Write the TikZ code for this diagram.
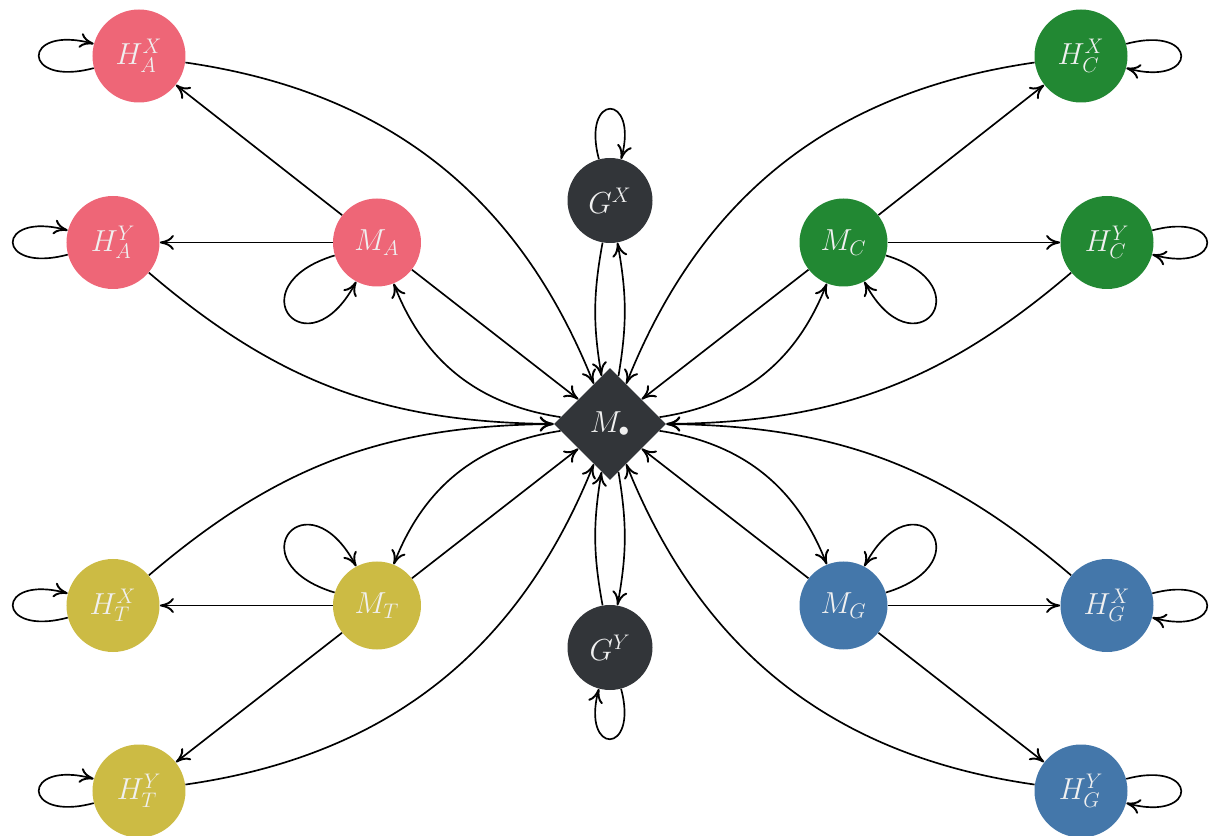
\documentclass[tikz,border=0pt]{standalone}
\usetikzlibrary{shapes.geometric,arrows.meta}
\definecolor{tolred}{HTML}{EE6677}
\definecolor{tolgreen}{HTML}{228833}
\definecolor{tolyellow}{HTML}{CCBB44}
\definecolor{tolblue}{HTML}{4477AA}
\definecolor{tolgrey}{HTML}{323539}

\begin{document}
\begin{tikzpicture}[
  >={Computer Modern Rightarrow[length=2.8mm,width=3mm,line width=1.1pt]},
  hnode/.style={circle, minimum size=1.86cm, inner sep=0pt, text=white!94!black, font=\LARGE},
  mnode/.style={circle, minimum size=1.76cm, inner sep=0pt, text=white!94!black, font=\LARGE},
  gnode/.style={circle, fill=tolgrey, minimum size=1.7cm, inner sep=0pt, text=white!94!black, font=\LARGE},
  hubnode/.style={diamond, fill=tolgrey, minimum width=2.24cm, minimum height=2.24cm, inner sep=0pt, text=white!94!black, font=\LARGE},
  arrow/.style={->, line width=0.95pt},
  bigloop/.style={min distance=2.1cm, max distance=2.1cm},
]
\useasboundingbox (-12.2,-8.24) rectangle (12.14,8.48);

\node[hubnode] (hub) at (0,0) {$M_\bullet$};
\node[gnode] (gx) at (0,4.47) {$G^X$};
\node[gnode] (gy) at (0,-4.47) {$G^Y$};

\node[mnode, fill=tolred] (ma) at (-4.66,3.63) {$M_A$};
\node[hnode, fill=tolred] (hax) at (-9.42,7.36) {$H_A^X$};
\node[hnode, fill=tolred] (hay) at (-9.94,3.63) {$H_A^Y$};

\node[mnode, fill=tolgreen] (mc) at (4.67,3.63) {$M_C$};
\node[hnode, fill=tolgreen] (hcx) at (9.42,7.36) {$H_C^X$};
\node[hnode, fill=tolgreen] (hcy) at (9.94,3.63) {$H_C^Y$};

\node[mnode, fill=tolyellow] (mt) at (-4.66,-3.63) {$M_T$};
\node[hnode, fill=tolyellow] (htx) at (-9.94,-3.63) {$H_T^X$};
\node[hnode, fill=tolyellow] (hty) at (-9.42,-7.34) {$H_T^Y$};

\node[mnode, fill=tolblue] (mg) at (4.67,-3.63) {$M_G$};
\node[hnode, fill=tolblue] (hgx) at (9.94,-3.63) {$H_G^X$};
\node[hnode, fill=tolblue] (hgy) at (9.42,-7.34) {$H_G^Y$};

\draw[arrow] (gx) to[bend right=10] (hub);
\draw[arrow] (hub) to[bend right=10] (gx);
\draw[arrow] (hub) to[bend left=10] (gy);
\draw[arrow] (gy) to[bend left=10] (hub);
\draw[arrow] (gx) to[loop above] (gx);
\draw[arrow] (gy) to[loop below] (gy);

\draw[arrow] (ma) -- (hax);
\draw[arrow] (ma) -- (hay);
\draw[arrow] (ma) -- (hub);
\draw[arrow] (hub) to[bend left=30] (ma);
\draw[arrow] (hax) to[bend left=30] (hub);
\draw[arrow] (hay) to[bend right=20] (hub);
\draw[arrow] (hax) to[loop left] (hax);
\draw[arrow] (hay) to[loop left] (hay);
\draw[arrow] (ma) to[out=197, in=242, bigloop] (ma);

\draw[arrow] (mc) -- (hcx);
\draw[arrow] (mc) -- (hcy);
\draw[arrow] (mc) -- (hub);
\draw[arrow] (hub) to[bend right=30] (mc);
\draw[arrow] (hcx) to[bend right=30] (hub);
\draw[arrow] (hcy) to[bend left=20] (hub);
\draw[arrow] (hcx) to[loop right] (hcx);
\draw[arrow] (hcy) to[loop right] (hcy);
\draw[arrow] (mc) to[out=-17, in=-62, bigloop] (mc);

\draw[arrow] (mt) -- (htx);
\draw[arrow] (mt) -- (hty);
\draw[arrow] (mt) -- (hub);
\draw[arrow] (hub) to[bend right=30] (mt);
\draw[arrow] (htx) to[bend left=20] (hub);
\draw[arrow] (hty) to[bend right=30] (hub);
\draw[arrow] (htx) to[loop left] (htx);
\draw[arrow] (hty) to[loop left] (hty);
\draw[arrow] (mt) to[out=163, in=118, bigloop] (mt);

\draw[arrow] (mg) -- (hgx);
\draw[arrow] (mg) -- (hgy);
\draw[arrow] (mg) -- (hub);
\draw[arrow] (hub) to[bend left=30] (mg);
\draw[arrow] (hgx) to[bend right=20] (hub);
\draw[arrow] (hgy) to[bend left=30] (hub);
\draw[arrow] (hgx) to[loop right] (hgx);
\draw[arrow] (hgy) to[loop right] (hgy);
\draw[arrow] (mg) to[out=17, in=62, bigloop] (mg);

\end{tikzpicture}
\end{document}
